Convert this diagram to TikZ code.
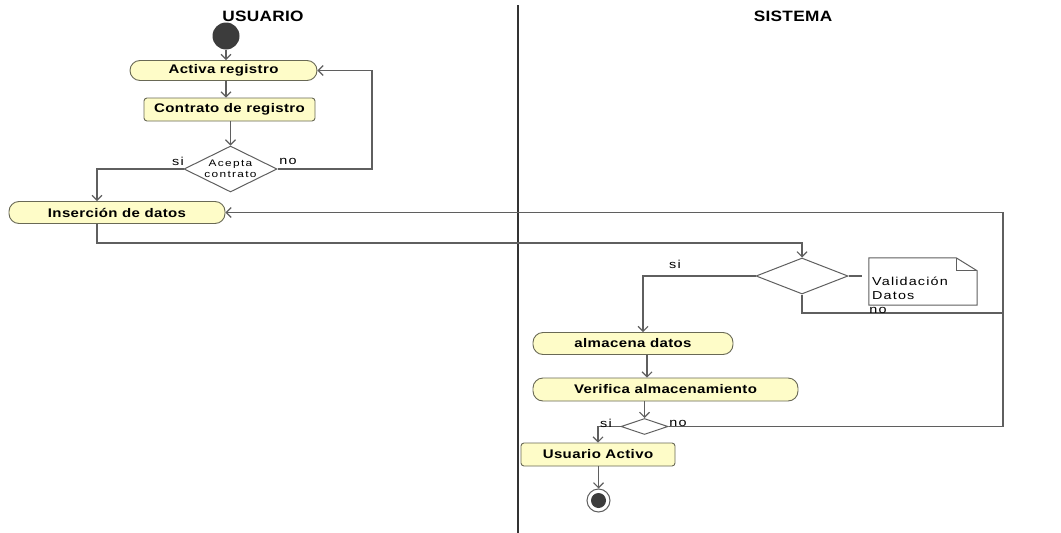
\documentclass[tikz,border=0pt]{standalone}
\usepackage{fontspec}
\setmainfont{Liberation Sans}
\newfontfamily\nodefont[FakeStretch=1.2,LetterSpace=3]{Liberation Sans}
\newfontfamily\headfont[FakeStretch=1.15,LetterSpace=2]{Liberation Sans}
\newfontfamily\smallfont[FakeStretch=1.25,LetterSpace=14]{Liberation Sans}
\newfontfamily\labfont[FakeStretch=1.25,LetterSpace=10]{Liberation Sans}
\usetikzlibrary{shapes.geometric,arrows.meta,calc}
\definecolor{nodefill}{RGB}{254,252,200}
\definecolor{nodeline}{RGB}{105,105,85}
\definecolor{linecol}{RGB}{95,95,95}
\definecolor{initfill}{RGB}{60,60,60}
\begin{document}
\begin{tikzpicture}[x=1pt,y=-1pt,
  flow/.style={draw=linecol, line width=1.1pt},
  arr/.style={flow, -{Straight Barb[length=5pt,width=10pt]}},
  act/.style={draw=nodeline, fill=nodefill, line width=0.9pt, rounded corners=10pt, inner sep=0pt,
    font=\nodefont\bfseries\fontsize{12.5}{14}\selectfont},
  box/.style={draw=nodeline, fill=nodefill, line width=0.9pt, rounded corners=3pt, inner sep=0pt,
    font=\nodefont\bfseries\fontsize{12.5}{14}\selectfont},
  dec/.style={diamond, draw=linecol, fill=white, line width=1pt, inner sep=0pt, aspect=2,
    font=\smallfont\fontsize{9.5}{10.5}\selectfont, align=center},
  head/.style={font=\headfont\bfseries\fontsize{15}{17}\selectfont},
  lab/.style={font=\labfont\fontsize{11.5}{13}\selectfont, inner sep=0pt},
  lane/.style={draw=black!80, line width=1.2pt},
  initial/.style={circle, fill=initfill, minimum size=27pt, inner sep=0pt},
  final/.style={circle, draw=linecol, line width=1pt, fill=white, minimum size=23pt, inner sep=0pt,
    path picture={\fill[initfill] (path picture bounding box.center) circle (7.5pt);}},
  notebox/.style={minimum width=108pt, minimum height=47pt, inner sep=0pt}
]
\useasboundingbox (0,0) rectangle (1061,533);
\fill[white] (0,0) rectangle (1061,533);

% swimlanes
\node[head] (husr) at (263,16) {USUARIO};
\node[head] (hsis) at (793,16) {SISTEMA};
\coordinate (laneT) at (518,5);
\coordinate (laneB) at (518,533);
\draw[lane] (laneT) -- (laneB);

% user lane
\node[initial] (init) at (226,36) {};
\node[act, minimum width=187pt, minimum height=20pt] (activa) at (223.5,70.5) {Activa registro};
\node[box, minimum width=171pt, minimum height=23pt] (contrato) at (229.5,109.5) {Contrato de registro};
\node[dec, minimum width=93pt, minimum height=46pt] (acepta) at (230.5,169) {Acepta\\contrato};
\node[act, minimum width=216pt, minimum height=22pt] (insercion) at (117,212.5) {Inserción de datos};

% system lane
\node[dec, minimum width=92pt, minimum height=36pt] (valid) at (802,276) {};
\node[notebox] (note) at (923,281.5) {};
\draw[draw=linecol, line width=1pt, fill=white]
  (note.north west) -- ([xshift=-21pt]note.north east) -- ([yshift=-13pt]note.north east)
  -- (note.south east) -- (note.south west) -- cycle;
\draw[draw=linecol, line width=1pt]
  ([xshift=-21pt]note.north east) -- ([xshift=-21pt,yshift=-13pt]note.north east) -- ([yshift=-13pt]note.north east);
\node[font=\labfont\fontsize{11.5}{14}\selectfont, align=left, anchor=west, inner sep=0pt] (notetxt) at (872,288) {Validación\\Datos};

\node[act, minimum width=200pt, minimum height=22pt] (almacena) at (633,343.5) {almacena datos};
\node[act, minimum width=265pt, minimum height=23pt] (verifica) at (665.5,389.5) {Verifica almacenamiento};
\node[dec, minimum width=47pt, minimum height=16pt] (small) at (644.5,426.5) {};
\node[box, minimum width=154pt, minimum height=23pt] (activo) at (598,454.5) {Usuario Activo};
\node[final] (fin) at (598.5,500.5) {};

% bend coordinates
\coordinate (cSi) at (97,169);
\coordinate (cNo) at (372,169);
\coordinate (cIns) at (97,243);
\coordinate (cVal) at (802,243);
\coordinate (cVsi) at (643,276);
\coordinate (rA) at (1003,313);
\coordinate (rB) at (1003,426.5);
\coordinate (cSmSi) at (598,426.5);
\coordinate (cAlm) at (647,0);

% connectors user lane
\draw[arr] (init.south) -- (init.south |- activa.north);
\draw[arr] (activa.south -| init) -- (contrato.north -| init);
\draw[arr] (contrato.south -| acepta) -- (acepta.north);
\draw[arr] (acepta.west) -- (cSi) -- (cSi |- insercion.north);
\draw[arr] (acepta.east) -- (cNo) |- (activa.east);
\draw[arr] (insercion.south -| cIns) -- (cIns) -- (cVal) -- (valid.north);

% connectors system lane
\draw[arr] (valid.west) -- (cVsi) -- (cVsi |- almacena.north);
\draw[flow] (valid.east) -- ($(note.west |- valid.east)+(-7,0)$);
\draw[arr] (valid.south) |- (rA) |- (insercion.east);
\draw[flow] (small.east) -- (rB) -- (rA);
\draw[arr] (almacena.south -| cAlm) -- (verifica.north -| cAlm);
\draw[arr] (verifica.south -| small) -- (small.north);
\draw[arr] (small.west) -- (cSmSi) -- (activo.north -| cSmSi);
\draw[arr] (activo.south -| fin) -- (fin.north);

% guard labels
\node[lab] (l1) at (178,161) {si};
\node[lab] (l2) at (288,161) {no};
\node[lab] (l3) at (675,264) {si};
\node[lab] (l4) at (878,310) {no};
\node[lab] (l5) at (606,423) {si};
\node[lab] (l6) at (678,423) {no};
\end{tikzpicture}
\end{document}
